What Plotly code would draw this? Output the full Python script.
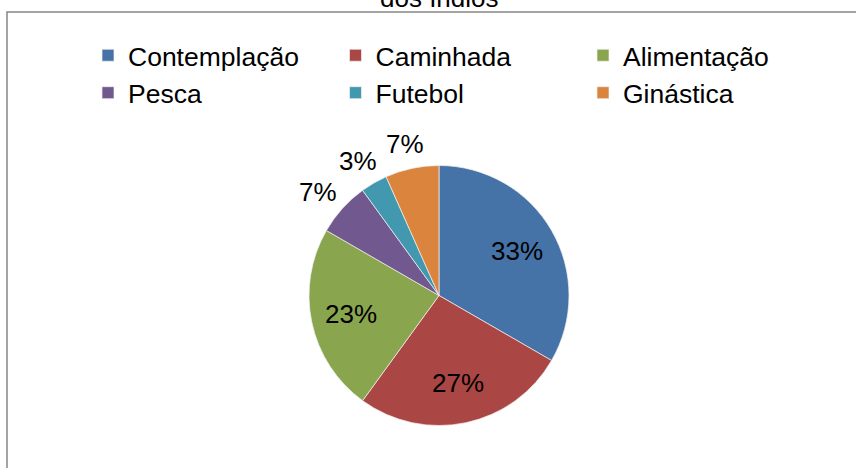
import numpy as np
import plotly.graph_objects as go

# atividades (contagem de pessoas)
atividades = ['Contemplação', 'Caminhada', 'Alimentação', 'Pesca', 'Futebol', 'Ginástica']
pessoas = [10, 8, 7, 2, 1, 2]
cores = ['#4572A7', '#AA4643', '#89A54E', '#71588F', '#4198AF', '#DB843D']
rotulo_fora = [False, False, False, True, True, True]
titulo = 'dos Índios'

W, H = 856, 468
fonte = 'Liberation Sans, Arial, sans-serif'
tam = 26

# centro e raio da pizza em pixels
cx, cy, r = 439, 295.5, 130

fig = go.Figure()
fig.add_trace(go.Pie(
    labels=atividades,
    values=pessoas,
    sort=False,
    direction='clockwise',
    rotation=0,
    marker=dict(colors=cores, line=dict(color='#f2f2f2', width=0.7)),
    textinfo='none',
    hoverinfo='label+percent',
    automargin=False,
    domain=dict(x=[(cx - r) / W, (cx + r) / W],
                y=[(H - cy - r) / H, (H - cy + r) / H]),
))

# rotulos de porcentagem, posicionados pelo angulo medio de cada fatia
v = np.array(pessoas, dtype=float)
pct = v / v.sum() * 100
fim = np.cumsum(v) / v.sum() * 2 * np.pi
meio = fim - v / v.sum() * np.pi
for ang, p, fora in zip(meio, pct, rotulo_fora):
    dx, dy = np.sin(ang), -np.cos(ang)
    txt = f'{p:.0f}%'
    if fora:
        w, h = 0.72 * tam * len(txt), 22
        px = cx + (r + 14) * dx + dx * w / 2
        py = cy + (r + 14) * dy + dy * h / 2
    else:
        px = cx + 0.69 * r * dx
        py = cy + 0.69 * r * dy
    fig.add_annotation(x=px / W, y=1 - py / H, xref='paper', yref='paper',
                       text=txt, showarrow=False, xanchor='center', yanchor='middle',
                       font=dict(family=fonte, size=tam, color='black'))

# titulo (so a ultima linha aparece, cortada no topo)
fig.add_annotation(x=439 / W, y=1 + 2.5 / H, xref='paper', yref='paper',
                   text=titulo, showarrow=False, xanchor='center', yanchor='middle',
                   font=dict(family=fonte, size=tam, color='black'))

# moldura do grafico (so a borda esquerda e a de cima aparecem)
fig.add_shape(type='rect', xref='paper', yref='paper',
              x0=7 / W, x1=1.2, y0=-0.2, y1=1 - 12 / H,
              line=dict(color='#868686', width=1.5), fillcolor='rgba(0,0,0,0)')

fig.update_layout(
    width=W, height=H,
    margin=dict(l=0, r=0, t=0, b=0),
    paper_bgcolor='white',
    plot_bgcolor='white',
    font=dict(family=fonte, color='black'),
    legend=dict(
        orientation='h',
        traceorder='normal',
        x=88 / W, xanchor='left',
        y=1 - 31.5 / H, yanchor='top',
        entrywidth=202.5,
        font=dict(family=fonte, size=26.5, color='black'),
        bgcolor='rgba(0,0,0,0)',
        itemclick=False,
    ),
)

fig.write_html('out.html', config={'displayModeBar': False},
               post_script="document.body.style.margin='0px';")
